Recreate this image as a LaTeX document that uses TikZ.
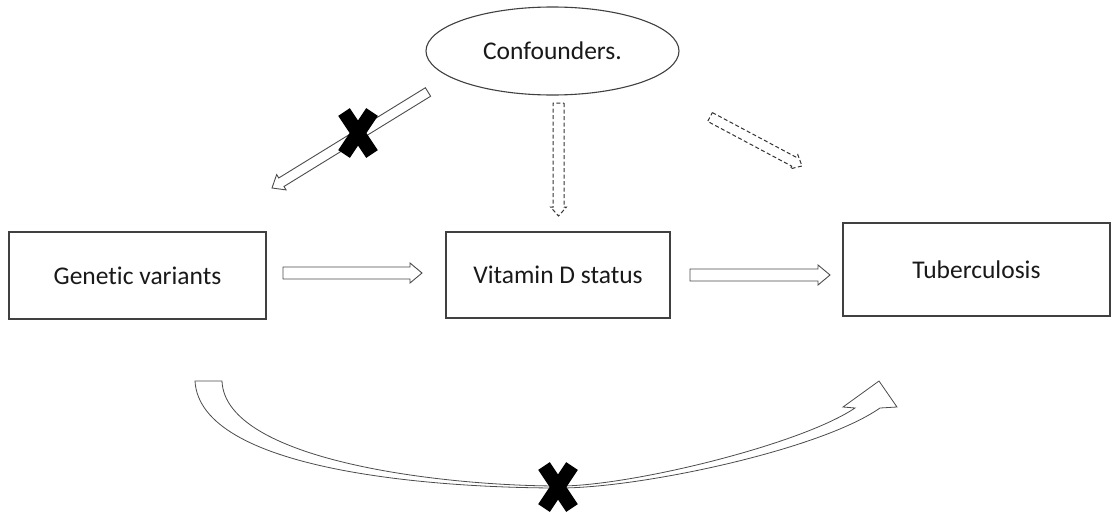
\documentclass[tikz,border=0pt]{standalone}
\usepackage{fontspec}
\setmainfont{Carlito}[Ligatures=NoCommon]
\usetikzlibrary{shapes.geometric,calc}

\tikzset{
  box/.style={draw=black!75,line width=1.1pt,fill=white,text=black!90,
    font=\fontsize{25.5}{30}\selectfont},
  blockarrow/.style n args={3}{to path={
    ($(\tikztostart)!#1!90:(\tikztotarget)$)
    -- ($(\tikztotarget)!#3!(\tikztostart)!#1!90:(\tikztotarget)$)
    -- ($(\tikztotarget)!#3!(\tikztostart)!#2!90:(\tikztotarget)$)
    -- (\tikztotarget)
    -- ($(\tikztotarget)!#3!(\tikztostart)!#2!-90:(\tikztotarget)$)
    -- ($(\tikztotarget)!#3!(\tikztostart)!#1!-90:(\tikztotarget)$)
    -- ($(\tikztostart)!#1!-90:(\tikztotarget)$) -- cycle}},
  hollow/.style={draw=black!70,line width=.9pt,fill=white,line join=miter},
  maybe/.style={hollow,draw=black!80,line width=1pt,dash pattern=on 4pt off 2.5pt},
  nogo/.pic={\draw[line width=14pt] (-14,-21) -- (14,21) (-14,21) -- (14,-21);}
}

\begin{document}
\begin{tikzpicture}[x=1pt,y=-1pt]
  \useasboundingbox (0,0) rectangle (1112,514);
  \node[box,ellipse,minimum width=253,minimum height=88,inner sep=0] (conf) at (552.5,51) {Confounders.};
  \node[box,minimum width=257,minimum height=87] (genes) at (137.5,275.5) {Genetic variants};
  \node[box,minimum width=224,minimum height=86] (vitd) at (558,275) {Vitamin D status};
  \node[box,minimum width=267,minimum height=93] (tb) at (976.5,269.5) {Tuberculosis};

  \coordinate (g1) at (283,273);   \coordinate (v1) at (422,273);
  \coordinate (v2) at (690,275);   \coordinate (t1) at (830,275);
  \coordinate (c1) at (558.5,103); \coordinate (v0) at (558.5,216);
  \coordinate (c2) at (710,117);   \coordinate (t0) at (802,166);
  \coordinate (c3) at (428,92);    \coordinate (g0) at (272,188);

  \draw[hollow,blockarrow={6pt}{10pt}{12pt}] (g1) to (v1);
  \draw[hollow,blockarrow={6pt}{10pt}{12pt}] (v2) to (t1);
  \draw[maybe,blockarrow={5.5pt}{8pt}{9pt}] (c1) to (v0);
  \draw[maybe,blockarrow={5pt}{8pt}{9pt}] (c2) to (t0);
  \draw[hollow,blockarrow={5pt}{9pt}{11pt}] (c3) to (g0);
  \pic at (358,133) {nogo};

  % direct route genes -> tb, ruled out
  \draw[hollow,line width=.8pt] (195,381) -- (222,381)
    .. controls (225,460) and (440,486) .. (560,486)
    .. controls (630,486) and (800,445) .. (855,408)
    -- (843,407) -- (879,381) -- (897,407) -- (880,408)
    .. controls (820,450) and (640,488) .. (560,488)
    .. controls (430,488) and (200,470) .. (195,381) -- cycle;
  \pic at (558,487) {nogo};
\end{tikzpicture}
\end{document}
